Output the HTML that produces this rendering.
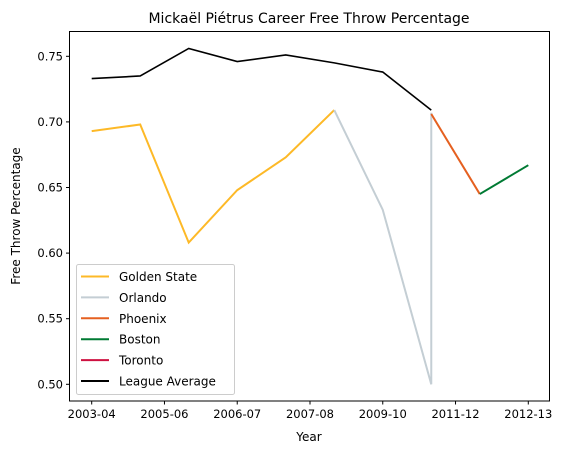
<!DOCTYPE html>
<html><head><meta charset="utf-8"><style>
body{margin:0;background:#fff;}
svg text{font-family:"DejaVu Sans","Liberation Sans",sans-serif;fill:#000;}
</style></head><body>
<svg id="chart" width="582" height="454" xmlns="http://www.w3.org/2000/svg">
<rect width="582" height="454" fill="#fff"/>
<text x="309" y="23" font-size="14" text-anchor="middle">Mickaël Piétrus Career Free Throw Percentage</text>
<g id="plot"></g>
<rect x="69.5" y="31.5" width="480" height="369.5" fill="none" stroke="#000" stroke-width="1"/>
<text x="309" y="441" font-size="12" text-anchor="middle">Year</text>
<text transform="translate(20,216) rotate(-90)" font-size="12" text-anchor="middle">Free Throw Percentage</text>
<g id="legend"></g>
</svg>
<script>
const seasons=["2003-04","2004-05","2005-06","2006-07","2007-08","2008-09","2009-10","2010-11","2011-12","2012-13"];
const xTickPos=[0,1.5,3,4.5,6,7.5,9];
const xTickLabels=["2003-04","2005-06","2006-07","2007-08","2009-10","2011-12","2012-13"];
const yTicks=[0.50,0.55,0.60,0.65,0.70,0.75];
const gsX=[0,1,2,3,4,5];
const gsY=[0.693,0.698,0.608,0.648,0.673,0.709];
const orlX=[5,6,7,7];
const orlY=[0.709,0.633,0.500,0.707];
const phxX=[7,8];
const phxY=[0.706,0.645];
const bosX=[8,9];
const bosY=[0.645,0.667];
const torX=[];
const torY=[];
const lgX=[0,1,2,3,4,5,6,7];
const lgY=[0.733,0.735,0.756,0.746,0.751,0.745,0.738,0.709];
const seriesNames=["Golden State","Orlando","Phoenix","Boston","Toronto","League Average"];

const NS="http://www.w3.org/2000/svg";
const xs=i=>91.7+i*48.51;
const ys=v=>384.3-(v-0.5)*1312;
const plot=document.getElementById('plot');
function mk(tag,attrs,parent){const e=document.createElementNS(NS,tag);for(const k in attrs)e.setAttribute(k,attrs[k]);parent.appendChild(e);return e;}
xTickPos.forEach((p,i)=>{
  const t=mk('line',{x1:xs(p),x2:xs(p),y1:401,y2:404.5,stroke:'#000'},plot);
  
  
  const l=mk('text',{x:xs(p),y:418,'font-size':'11.5','text-anchor':'middle'},plot);
  l.textContent=xTickLabels[i];
  
  
});
yTicks.forEach(v=>{
  const t=mk('line',{x1:66,x2:69.5,y1:ys(v),y2:ys(v),stroke:'#000'},plot);
  
  
  const l=mk('text',{x:63,y:ys(v)+4,'font-size':'11.5','text-anchor':'end'},plot);
  l.textContent=v.toFixed(2);
  
  
});
const series=[[gsX,gsY,'#FDB927',2,'golden-state-line'],[orlX,orlY,'#C4CED4',2,'orlando-line'],[phxX,phxY,'#E56020',2,'phoenix-line'],[bosX,bosY,'#007A33',2,'boston-line'],[torX,torY,'#CE1141',2,'toronto-line'],[lgX,lgY,'#000',1.6,'league-average-line']];
series.forEach(s=>{
  if(!s[0].length)return;
  const pts=s[0].map((x,i)=>xs(x)+','+ys(s[1][i])).join(' ');
  const p=mk('polyline',{points:pts,fill:'none',stroke:s[2],'stroke-width':s[3]},plot);
  
  
});
const lg=document.getElementById('legend');
const box=mk('rect',{x:76.5,y:264.5,width:158,height:130,rx:2,fill:'#fff','fill-opacity':0.8,stroke:'#ccc'},lg);


seriesNames.forEach((n,i)=>{
  const y=276.5+i*20.9;
  const ln=mk('line',{x1:81,x2:109,y1:y,y2:y,stroke:series[i][2],'stroke-width':2},lg);
  
  
  const t=mk('text',{x:119,y:y+4.5,'font-size':'12'},lg);
  t.textContent=n;
  
  
});
</script>
</body></html>
